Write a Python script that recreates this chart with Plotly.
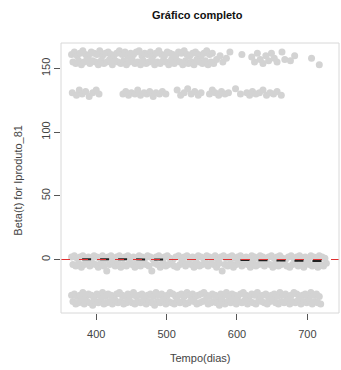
import plotly.graph_objects as go

# ---- data ----
dias_a = list(range(365, 729, 4))   # time grid (days) for dense bands, row A
dias_b = list(range(367, 731, 4))   # time grid (days) for dense bands, row B

zero_up = [2, 3, 1, 2, 3, 0, 2, 1, 3, 2, 1, 3, 0, 2, 3, 1, 2, 3, 1, 2,
           3, 1, 2, 0, 3, 2, 1, 3, 2, 0, 2, 3, 1, 2, 3, 1, 0, 2, 3, 1,
           2, 3, 1, 2, 0, 3, 2, 1, 3, 2, 1, 3, 0, 2, 3, 1, 2, 3, 1, 2,
           3, 1, 2, 0, 3, 2, 1, 3, 2, 0, 2, 3, 1, 2, 3, 1, 0, 2, 3, 1,
           2, 3, 1, 2, 0, 3, 2, 1, 3, 2, 1]
zero_dn = [-4, -5, -3, -6, -4, -2, -5, -3, -4, -6, -3, -5, -9, -4, -2, -5, -3, -6, -4, -5,
           -3, -4, -6, -2, -5, -3, -4, -5, -9, -3, -4, -6, -2, -5, -4, -3, -5, -6, -4, -2,
           -5, -3, -4, -6, -3, -5, -4, -2, -5, -3, -4, -6, -3, -9, -4, -5, -3, -6, -4, -2,
           -5, -3, -4, -6, -3, -5, -4, -2, -5, -3, -4, -6, -3, -5, -4, -2, -5, -6, -4, -3,
           -5, -4, -6, -3, -4, -5, -3, -6, -4, -5, -3]

baixo_up = [-28, -27, -29, -28, -26, -29, -27, -28, -30, -27, -28, -26, -29, -27, -28, -29, -27, -26, -28, -29,
            -27, -28, -26, -29, -28, -27, -30, -28, -27, -29, -26, -28, -27, -29, -28, -26, -27, -29, -28, -27,
            -29, -26, -28, -27, -29, -28, -27, -26, -28, -29, -27, -28, -30, -27, -28, -26, -29, -27, -28, -29,
            -27, -26, -28, -29, -27, -28, -26, -29, -28, -27, -30, -28, -27, -29, -26, -28, -27, -29, -28, -26,
            -27, -29, -28, -27, -29, -26, -28, -27, -29]
baixo_dn = [-33, -35, -34, -32, -35, -33, -34, -36, -33, -34, -32, -35, -34, -33, -35, -32, -34, -33, -35, -34,
            -32, -34, -35, -33, -34, -32, -35, -33, -34, -36, -33, -34, -32, -35, -33, -34, -35, -32, -34, -33,
            -35, -34, -32, -33, -35, -34, -33, -32, -35, -34, -33, -34, -36, -32, -35, -33, -34, -32, -35, -33,
            -34, -32, -35, -33, -34, -35, -32, -33, -34, -35, -33, -32, -34, -35, -33, -34, -32, -35, -33, -34,
            -32, -35, -33, -34, -32, -35, -33, -34, -35]

topo_up = [161, 163, 160, 162, 164, 161, 160, 163, 162, 161, 164, 160, 162, 163, 161, 160, 162, 164, 161, 163,
           160, 162, 161, 163, 164, 160, 162, 161, 163, 160, 162, 164, 161, 160, 163, 162, 161, 160, 163, 162,
           164, 161, 160, 162, 163, 161, 160, 162, 164, 161, 162]
topo_dn = [155, 154, 156, 153, 155, 157, 154, 156, 155, 153, 156, 154, 155, 157, 153, 156, 155, 154, 156, 153,
           155, 157, 154, 155, 153, 156, 154, 155, 157, 153, 155, 154, 156, 155, 153, 157, 154, 156, 155, 153,
           156, 154, 155, 153, 157, 155, 154, 156, 153, 155, 154]

x_topo2 = [571, 576, 580, 585, 590, 607, 621, 625, 629, 633, 637, 641, 645, 649, 653, 657, 664, 668, 676, 682, 706, 717]
y_topo2 = [157, 160, 155, 158, 163, 161, 159, 155, 162, 157, 154, 160, 156, 162, 158, 155, 163, 157, 156, 160, 158, 153]

x_130 = [366, 372, 376, 380, 385, 390, 395, 400, 404,
         438, 442, 446, 450, 455, 459, 463, 468, 472, 476, 481, 485, 490, 494, 499,
         515, 520, 525, 530, 535, 540, 545, 549,
         561, 565, 569, 574, 578, 583, 588,
         598, 605,
         614, 618, 622, 627, 632, 637, 642, 647, 652, 657, 663]
y_130 = [131, 129, 133, 130, 132, 128, 131, 133, 130,
         130, 132, 129, 131, 130, 133, 129, 131, 130, 132, 128, 131, 130, 132, 130,
         133, 129, 131, 134, 130, 132, 129, 131,
         130, 133, 131, 129, 132, 130, 131,
         134, 130,
         131, 129, 132, 130, 131, 133, 129, 131, 130, 132, 129]

fit_x1 = [380, 508]
fit_y1 = [0.3, 0.0]
fit_x2 = [605, 700, 730]
fit_y2 = [-0.3, -0.8, -1.3]

x_ticks = [400, 500, 600, 700]
y_ticks = [0, 50, 100, 150]

cinza = "#d3d3d3"
mk = dict(color=cinza, size=7, line=dict(width=0))

fig = go.Figure()
fig.add_trace(go.Scatter(x=dias_a[:len(baixo_up)], y=baixo_up, mode="markers", marker=mk))
fig.add_trace(go.Scatter(x=dias_b[:len(baixo_dn)], y=baixo_dn, mode="markers", marker=mk))
fig.add_trace(go.Scatter(x=dias_a[:len(zero_up)], y=zero_up, mode="markers", marker=mk))
fig.add_trace(go.Scatter(x=dias_b[:len(zero_dn)], y=zero_dn, mode="markers", marker=mk))
fig.add_trace(go.Scatter(x=dias_a[:len(topo_up)], y=topo_up, mode="markers", marker=mk))
fig.add_trace(go.Scatter(x=dias_b[:len(topo_dn)], y=topo_dn, mode="markers", marker=mk))
fig.add_trace(go.Scatter(x=x_topo2, y=y_topo2, mode="markers", marker=mk))
fig.add_trace(go.Scatter(x=x_130, y=y_130, mode="markers", marker=mk))

# red reference line at 0
fig.add_shape(type="line", xref="paper", yref="y", x0=0, x1=1, y0=0, y1=0,
              line=dict(color="#e03030", width=1, dash="dash"))

fig.add_trace(go.Scatter(x=fit_x1, y=fit_y1, mode="lines",
                         line=dict(color="#222222", width=2, dash="dash")))
fig.add_trace(go.Scatter(x=fit_x2, y=fit_y2, mode="lines",
                         line=dict(color="#222222", width=2, dash="dash")))

# box
fig.add_shape(type="rect", xref="paper", yref="paper", x0=0, x1=1, y0=0, y1=1,
              line=dict(color="#d8d8d8", width=1))

fam = "Liberation Sans, Arial, sans-serif"
fnt = dict(family=fam, size=11, color="#444444")

fig.update_layout(
    width=341, height=370,
    margin=dict(l=61, r=2, t=43, b=57),
    paper_bgcolor="white", plot_bgcolor="white",
    showlegend=False,
    font=fnt,
    xaxis=dict(range=[350, 745], tickvals=x_ticks, ticks="outside", ticklen=6,
               tickcolor="#555555", showgrid=False, zeroline=False, showline=False,
               tickfont=fnt, ticklabelstandoff=5),
    yaxis=dict(range=[-42, 170], tickvals=y_ticks, ticks="outside", ticklen=6,
               tickcolor="#555555", showgrid=False, zeroline=False, showline=False,
               tickangle=-90, tickfont=fnt),
    annotations=[
        dict(text="<b>Gráfico completo</b>", xref="paper", yref="paper", x=0.49, y=1,
             xanchor="center", yanchor="middle", yshift=28, showarrow=False,
             font=dict(family=fam, size=11, color="#111111")),
        dict(text="Tempo(dias)", xref="paper", yref="paper", x=0.5, y=0,
             xanchor="center", yanchor="middle", yshift=-45, showarrow=False, font=fnt),
        dict(text="Beta(t) for Iproduto_81", xref="paper", yref="paper", x=0, y=0.49,
             xanchor="center", yanchor="middle", xshift=-43, textangle=-90,
             showarrow=False, font=fnt),
    ],
)

fig.write_html("out.html")
